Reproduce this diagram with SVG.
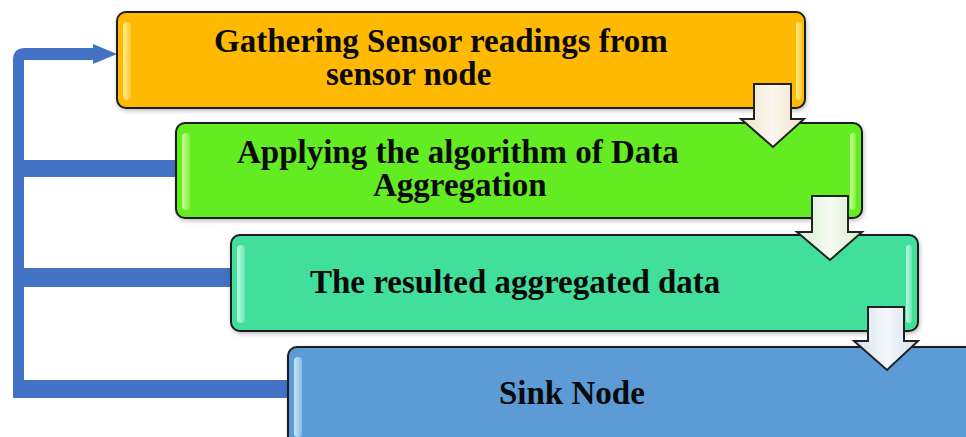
<svg xmlns="http://www.w3.org/2000/svg" width="966" height="437" viewBox="0 0 966 437">
<style>
.box{stroke:#1a1a1a;stroke-width:2}
.lbl{font-family:"Liberation Serif","Times New Roman",serif;font-weight:bold;font-size:33px;fill:#0a0a0a}
.hl{opacity:0.85}
.arr{stroke:#222;stroke-width:2;stroke-linejoin:miter}
.conn{fill:#4472C4}
</style>
<defs>
<linearGradient id="hlY" x1="0" y1="0" x2="1" y2="0"><stop offset="0" stop-color="#fff3a0"/><stop offset="1" stop-color="#ffd040"/></linearGradient>
<linearGradient id="hlG" x1="0" y1="0" x2="1" y2="0"><stop offset="0" stop-color="#d8ffb0"/><stop offset="1" stop-color="#88f040"/></linearGradient>
<linearGradient id="hlT" x1="0" y1="0" x2="1" y2="0"><stop offset="0" stop-color="#d0fff0"/><stop offset="1" stop-color="#70eab8"/></linearGradient>
<linearGradient id="hlB" x1="0" y1="0" x2="1" y2="0"><stop offset="0" stop-color="#e0f4ff"/><stop offset="1" stop-color="#8cc0ea"/></linearGradient>
<linearGradient id="aY" x1="0" y1="0" x2="1" y2="0"><stop offset="0" stop-color="#efe2c8"/><stop offset="0.5" stop-color="#fbf7ee"/><stop offset="1" stop-color="#efe2c8"/></linearGradient>
<linearGradient id="aG" x1="0" y1="0" x2="1" y2="0"><stop offset="0" stop-color="#d6eecb"/><stop offset="0.5" stop-color="#f5fbf2"/><stop offset="1" stop-color="#d6eecb"/></linearGradient>
<linearGradient id="aB" x1="0" y1="0" x2="1" y2="0"><stop offset="0" stop-color="#d3e0ec"/><stop offset="0.5" stop-color="#f4f8fb"/><stop offset="1" stop-color="#d3e0ec"/></linearGradient>
<filter id="sh" x="-5%" y="-10%" width="110%" height="130%"><feDropShadow dx="1" dy="2" stdDeviation="2" flood-color="#000" flood-opacity="0.25"/></filter>
</defs>

<g id="connectors">
<path class="conn" d="M13,398 V60 Q13,48 25,48 H93 V44 L117,54 L93,64 V60 H24 V160 H176 V177 H24 V268 H231 V287 H24 V380 H288 V398 Z"/>
</g>

<g id="node1">
<rect class="box" x="117" y="12" width="688" height="96" rx="9" fill="#FFB905" filter="url(#sh)"/>
<rect class="hl" x="123" y="22" width="8" height="78" rx="4" fill="url(#hlY)"/>
<rect class="hl" x="796" y="22" width="6" height="78" rx="3" fill="url(#hlY)"/>
<text class="lbl" x="214" y="52">Gathering Sensor readings from</text>
<text class="lbl" x="326" y="85">sensor node</text>
</g>

<g id="node2">
<rect class="box" x="176" y="123" width="686" height="95" rx="9" fill="#63EC20" filter="url(#sh)"/>
<rect class="hl" x="182" y="133" width="8" height="77" rx="4" fill="url(#hlG)"/>
<rect class="hl" x="850" y="133" width="6" height="77" rx="3" fill="url(#hlG)"/>
<text class="lbl" x="237" y="163">Applying the algorithm of Data</text>
<text class="lbl" x="373" y="196">Aggregation</text>
</g>

<g id="node3">
<rect class="box" x="231" y="235" width="687" height="96" rx="9" fill="#42DF9C" filter="url(#sh)"/>
<rect class="hl" x="237" y="245" width="8" height="78" rx="4" fill="url(#hlT)"/>
<rect class="hl" x="906" y="245" width="6" height="78" rx="3" fill="url(#hlT)"/>
<text class="lbl" x="310" y="293">The resulted aggregated data</text>
</g>

<g id="node4">
<rect class="box" x="288" y="347" width="700" height="110" rx="9" fill="#5B9BD5" filter="url(#sh)"/>
<rect class="hl" x="294" y="357" width="8" height="80" rx="4" fill="url(#hlB)"/>
<text class="lbl" x="499" y="404">Sink Node</text>
</g>

<g id="arrows">
<polygon class="arr" fill="url(#aY)" points="754,84 791,84 791,119 804,119 773,147 741,119 754,119"/>
<polygon class="arr" fill="url(#aG)" points="812,196 848,196 848,232 862,232 830,260 797,232 812,232"/>
<polygon class="arr" fill="url(#aB)" points="868,307 904,307 904,341 918,341 887,370 854,341 868,341"/>
</g>
</svg>
